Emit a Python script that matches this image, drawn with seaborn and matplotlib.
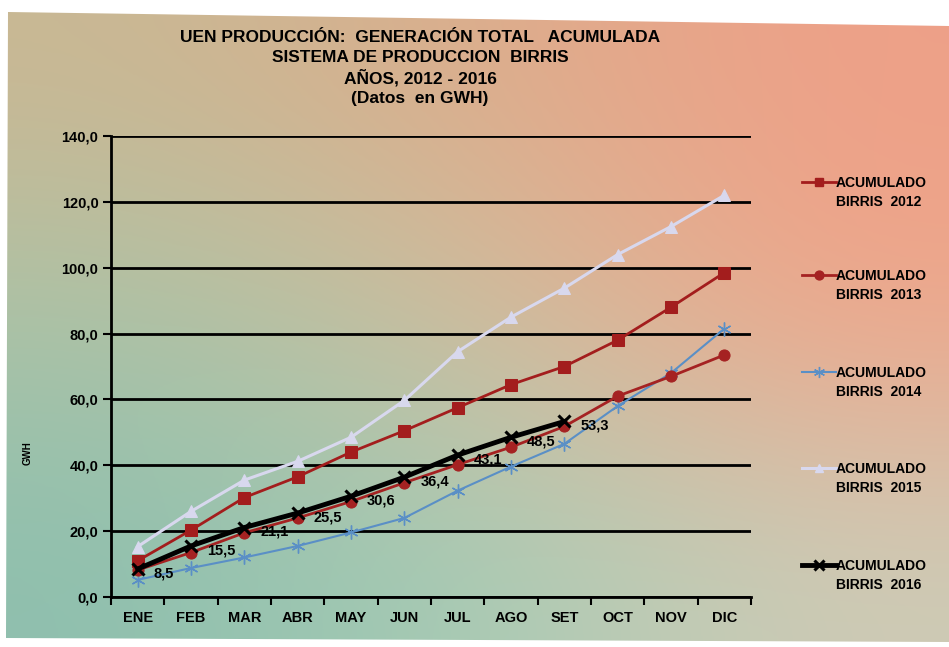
import numpy as np
import pandas as pd
import matplotlib
matplotlib.use("Agg")
import matplotlib.pyplot as plt
from matplotlib.lines import Line2D
from matplotlib.patches import Polygon
from matplotlib.colors import to_rgb
import seaborn as sns

# Datos (GWH acumulado)
meses = ["ENE", "FEB", "MAR", "ABR", "MAY", "JUN", "JUL", "AGO", "SET", "OCT", "NOV", "DIC"]
acum_2012 = [11.0, 20.3, 30.2, 36.5, 44.0, 50.5, 57.5, 64.5, 70.0, 78.0, 88.0, 98.5]
acum_2013 = [8.2, 13.5, 19.5, 24.0, 29.0, 34.7, 40.2, 45.5, 51.8, 61.0, 67.0, 73.5]
acum_2014 = [5.2, 8.8, 12.0, 15.5, 19.6, 24.0, 32.3, 39.6, 46.5, 58.0, 68.0, 81.5]
acum_2015 = [15.3, 26.0, 35.5, 41.2, 48.5, 59.7, 74.5, 85.0, 93.8, 104.0, 112.5, 122.0]
acum_2016 = [8.5, 15.5, 21.1, 25.5, 30.6, 36.4, 43.1, 48.5, 53.3]
y_ticks = [0, 20, 40, 60, 80, 100, 120, 140]
titulo = ["UEN PRODUCCIÓN:  GENERACIÓN TOTAL   ACUMULADA",
          "SISTEMA DE PRODUCCION  BIRRIS",
          "AÑOS, 2012 - 2016",
          "(Datos  en GWH)"]

plt.rcParams['font.family'] = ['Liberation Sans', 'DejaVu Sans']
plt.rcParams['font.weight'] = 'bold'

W, H = 949, 647
fig = plt.figure(figsize=(W / 100, H / 100), dpi=100)
fig.patch.set_facecolor("white")

# fondo degradado (foto de la diapositiva)
esquinas = [["#c9b894", "#dcae8c", "#eea088"],
            ["#a9c4a8", "#cfc1a1", "#f0a68a"],
            ["#8ebfae", "#a6cdb6", "#cecbb6"]]
grad = np.array([[to_rgb(c) for c in fila] for fila in esquinas])
bg = fig.add_axes([0, 0, 1, 1], zorder=-10)
im = bg.imshow(grad, aspect="auto", interpolation="bicubic", extent=[0, 1, 0, 1])
poly = Polygon([(8 / W, 1 - 12 / H), (1, 1 - 26 / H), (1, 1 - 642 / H), (6 / W, 1 - 638 / H)],
               transform=bg.transAxes, facecolor="none", edgecolor="none")
bg.add_patch(poly)
im.set_clip_path(poly)
bg.set_xlim(0, 1)
bg.set_ylim(0, 1)
bg.axis("off")

ax = fig.add_axes([111 / W, (H - 597) / H, 640 / W, 461 / H])
ax.set_facecolor("none")

estilos = [
    (acum_2012, dict(color="#a31d1d", marker="s", markersize=8, linewidth=2.0, zorder=3)),
    (acum_2013, dict(color="#a52222", marker="o", markersize=8, linewidth=2.0, zorder=4)),
    (acum_2014, dict(color="#5a8fc6", marker=(6, 2, 0), markersize=10, markeredgewidth=1.0,
                     linewidth=1.5, zorder=3)),
    (acum_2015, dict(color="#d8d8ee", marker="^", markersize=8, linewidth=2.2, zorder=3)),
    (acum_2016, dict(color="black", marker="x", markersize=9, markeredgewidth=2.2,
                     linewidth=3.5, zorder=5)),
]

for vals, kw in estilos:
    df = pd.DataFrame({"mes": np.arange(len(vals)), "gwh": vals})
    mec = kw.get("color")
    sns.lineplot(data=df, x="mes", y="gwh", ax=ax, markeredgecolor=mec, **kw)

# etiquetas de datos 2016
for i, v in enumerate(acum_2016):
    ax.annotate(f"{v:.1f}".replace(".", ","), (i, v), xytext=(11.5, -3),
                textcoords="offset points", ha="left", va="center",
                fontsize=10.5, fontweight="bold", zorder=6)

ax.set_xlim(-0.5, 11.5)
ax.set_ylim(0, 140)
ax.set_yticks(y_ticks)
ax.set_yticklabels([f"{t:.1f}".replace(".", ",") for t in y_ticks])
ax.set_xticks(np.arange(len(meses)))
ax.set_xticklabels(meses)
ax.set_xticks(np.arange(-0.5, 12, 1), minor=True)
ax.tick_params(axis="x", which="major", length=0, pad=10, labelsize=10.5)
ax.tick_params(axis="x", which="minor", length=6, width=1.5, direction="out")
ax.tick_params(axis="y", length=6, width=1.5, direction="out", pad=3, labelsize=10.5)
ax.yaxis.grid(True, color="black", linewidth=2)
ax.set_axisbelow(True)
ax.set_xlabel("")
ax.set_ylabel("")
for s in ["top", "right"]:
    ax.spines[s].set_visible(False)
for s in ["left", "bottom"]:
    ax.spines[s].set_linewidth(2)
    ax.spines[s].set_color("black")

fig.text(28 / W, 1 - 453 / H, "GWH", rotation=90, ha="center", va="center",
         fontsize=7, fontweight="bold")

for k, linea in enumerate(titulo):
    fig.text(420 / W, 1 - (37 + 20.5 * k) / H, linea, ha="center", va="center",
             fontsize=12.5, fontweight="bold")

# leyenda a la derecha
anios = ["2012", "2013", "2014", "2015", "2016"]
ley_y = [182, 275, 372, 468, 565]
for (vals, kw), anio, yy in zip(estilos, anios, ley_y):
    kk = {k: v for k, v in kw.items() if k not in ("zorder",)}
    if "markersize" in kk:
        kk["markersize"] = kk["markersize"] * 0.8
    ln = Line2D([802 / W, 819 / W, 836 / W], [1 - yy / H] * 3, transform=fig.transFigure,
                markevery=[1], markeredgecolor=kw["color"], **kk)
    fig.add_artist(ln)
    fig.text(836 / W, 1 - (yy + 1) / H, "ACUMULADO", ha="left", va="center",
             fontsize=10, fontweight="bold")
    fig.text(836 / W, 1 - (yy + 20) / H, f"BIRRIS  {anio}", ha="left", va="center",
             fontsize=10, fontweight="bold")

fig.savefig("out.png", dpi=100)
